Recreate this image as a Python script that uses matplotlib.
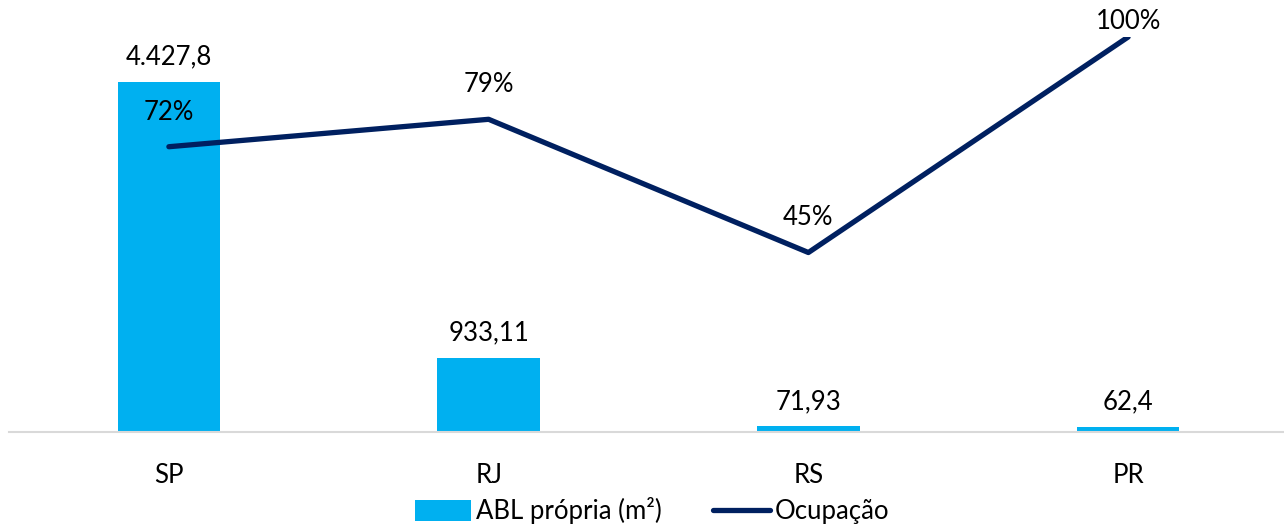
import matplotlib
matplotlib.use("Agg")
import matplotlib.pyplot as plt
from matplotlib.patches import Patch
from matplotlib.lines import Line2D

categories = ["SP", "RJ", "RS", "PR"]
abl = [4427.8, 933.11, 71.93, 62.4]
abl_labels = ["4.427,8", "933,11", "71,93", "62,4"]
ocupacao = [0.72, 0.79, 0.45, 1.00]
ocup_labels = ["72%", "79%", "45%", "100%"]

BAR_COLOR = "#00B0F0"
LINE_COLOR = "#002060"
FONT = "Lato"
FS = 18.5

plt.rcParams["font.family"] = [FONT, "DejaVu Sans"]

fig = plt.figure(figsize=(12.84, 5.24), dpi=100)
ax = fig.add_axes([9 / 1284, 92 / 524, 1279 / 1284, 395 / 524])
x = list(range(len(categories)))
ax.bar(x, abl, width=0.32, color=BAR_COLOR, zorder=2)
ax.set_xlim(-0.5, 3.5)
ax.set_ylim(0, 5000)
for s in ["top", "right", "left"]:
    ax.spines[s].set_visible(False)
ax.spines["bottom"].set_color("#D9D9D9")
ax.spines["bottom"].set_linewidth(1.5)
ax.set_yticks([])
ax.set_xticks(x)
ax.set_xticklabels(categories, fontsize=FS)
ax.tick_params(axis="x", length=0, pad=22)

for xi, v, lab in zip(x, abl, abl_labels):
    ax.annotate(lab, (xi, v), xytext=(0, 9), textcoords="offset points",
                ha="center", va="bottom", fontsize=FS, color="black")

ax2 = ax.twinx()
ax2.plot(x, ocupacao, color=LINE_COLOR, linewidth=3.8, solid_capstyle="round", zorder=3)
ax2.set_ylim(-0.008, 1.0)
ax2.set_yticks([])
for s in ax2.spines.values():
    s.set_visible(False)

offsets = [16, 16, 16, 2]
for xi, v, lab, off in zip(x, ocupacao, ocup_labels, offsets):
    ax2.annotate(lab, (xi, v), xytext=(0, off), textcoords="offset points",
                 ha="center", va="bottom", fontsize=FS, color="black")

handles = [Patch(facecolor=BAR_COLOR, edgecolor="none"),
           Line2D([0], [0], color=LINE_COLOR, linewidth=3.8, solid_capstyle="round")]
fig.legend(handles, ["ABL própria (m²)", "Ocupação"], loc="center",
           bbox_to_anchor=(652 / 1284, 13 / 524), ncol=2, frameon=False,
           fontsize=FS, handlelength=2.2, handleheight=0.9, handletextpad=0.2,
           columnspacing=2.0, borderpad=0)

fig.savefig("out.png", dpi=100)
